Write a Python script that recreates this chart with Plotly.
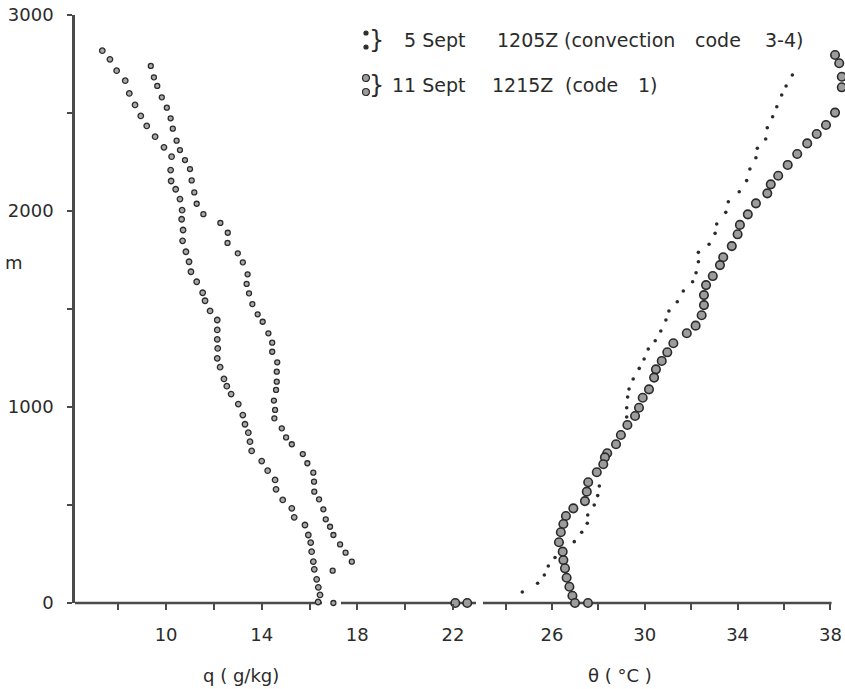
import plotly.graph_objects as go

# ---- specific humidity profiles, q (g/kg) vs height (m) ----
q_sep11 = [7.33, 7.65, 7.93, 8.29, 8.46, 8.70, 8.94, 9.19, 9.54, 9.91, 10.23, 10.19,
           10.21, 10.40, 10.58, 10.67, 10.65, 10.71, 10.69, 10.83, 10.96, 11.04, 11.28,
           11.53, 11.63, 11.84, 12.14, 12.14, 12.14, 12.16, 12.14, 12.26, 12.42, 12.54,
           12.72, 13.02, 13.21, 13.30, 13.44, 13.51, 13.58, 14.00, 14.25, 14.56, 14.60,
           14.88, 15.26, 15.36, 15.81, 15.95, 16.05, 16.09, 16.16, 16.20, 16.30, 16.37,
           16.44, 16.36]
zq_sep11 = [2818, 2774, 2716, 2665, 2600, 2541, 2485, 2434, 2379, 2325, 2277, 2209,
            2153, 2111, 2061, 2004, 1958, 1903, 1848, 1792, 1741, 1690, 1639, 1583,
            1542, 1490, 1444, 1393, 1345, 1299, 1248, 1203, 1143, 1106, 1066, 1015,
            959, 912, 869, 823, 776, 724, 675, 628, 580, 526, 483, 437, 398, 347, 308,
            262, 211, 172, 121, 80, 41, 5]

q_sep5 = [9.36, 9.49, 9.63, 9.82, 10.03, 10.19, 10.28, 10.44, 10.58, 10.79, 11.00,
          11.07, 11.18, 11.28, 11.56, 12.27, 12.58, 12.57, 13.00, 13.21, 13.41, 13.37,
          13.47, 13.61, 13.83, 14.04, 14.28, 14.44, 14.44, 14.65, 14.63, 14.63, 14.60,
          14.51, 14.56, 14.53, 14.84, 15.02, 15.26, 15.72, 15.91, 16.16, 16.19, 16.20,
          16.40, 16.58, 16.68, 16.86, 17.00, 17.28, 17.51, 17.77, 16.97, 17.00]
zq_sep5 = [2740, 2682, 2638, 2580, 2527, 2473, 2420, 2359, 2311, 2260, 2214, 2156,
           2095, 2037, 1984, 1939, 1889, 1837, 1784, 1738, 1677, 1628, 1580, 1525,
           1473, 1435, 1376, 1328, 1282, 1228, 1180, 1129, 1087, 1033, 985, 942, 891,
           845, 810, 760, 713, 665, 619, 568, 529, 478, 427, 389, 347, 299, 257, 211,
           165, 0]

# surface humidity readings
q_surface = [22.1, 22.6]
zq_surface = [0, 0]

# ---- potential temperature profiles, theta (deg C) vs height (m) ----
th_sep11 = [38.20, 38.38, 38.49, 38.49, 38.56, 38.20, 37.81, 37.41, 37.00, 36.57,
            36.16, 35.75, 35.43, 35.28, 34.79, 34.44, 34.10, 34.00, 33.75, 33.38,
            33.24, 32.93, 32.64, 32.55, 32.55, 32.45, 32.19, 31.81, 31.23, 30.97,
            30.73, 30.48, 30.40, 30.18, 29.91, 29.75, 29.58, 29.25, 28.97, 28.76,
            28.38, 28.28, 28.21, 27.93, 27.56, 27.50, 27.42, 26.92, 26.60, 26.49,
            26.38, 26.30, 26.46, 26.49, 26.56, 26.63, 26.75, 26.88, 26.99, 27.55]
zth_sep11 = [2796, 2754, 2685, 2631, 2570, 2502, 2439, 2393, 2345, 2291, 2235, 2180,
             2136, 2090, 2039, 1983, 1929, 1881, 1821, 1764, 1724, 1668, 1622, 1571,
             1520, 1468, 1415, 1376, 1325, 1279, 1235, 1192, 1150, 1090, 1047, 996,
             954, 908, 857, 810, 764, 743, 708, 667, 616, 568, 520, 483, 444, 403,
             361, 310, 262, 219, 177, 129, 83, 37, 0, 0]

th_sep5 = [36.36, 36.09, 35.90, 35.69, 35.51, 35.28, 35.21, 34.85, 34.79, 34.53,
           34.39, 34.07, 33.60, 33.49, 33.10, 33.03, 32.77, 32.31, 32.31, 32.21,
           32.06, 31.66, 31.40, 31.04, 30.91, 30.69, 30.45, 30.15, 29.97, 29.76,
           29.50, 29.32, 29.26, 29.22, 29.22, 28.04, 27.97, 27.82, 27.54, 27.52,
           27.28, 26.96, 26.13, 25.84, 25.67, 25.38, 24.72]
zth_sep5 = [2694, 2638, 2592, 2532, 2481, 2425, 2367, 2320, 2272, 2214, 2155, 2098,
            2047, 1993, 1934, 1886, 1830, 1789, 1741, 1685, 1639, 1592, 1537, 1490,
            1444, 1388, 1338, 1296, 1245, 1197, 1143, 1092, 1051, 996, 949, 597, 548,
            500, 449, 407, 361, 313, 232, 189, 143, 101, 56]

# ---- axes ticks ----
q_ticks = [8, 10, 12, 14, 16, 18, 20, 22]
q_labels = ["", "10", "", "14", "", "18", "", "22"]
th_ticks = [24, 26, 28, 30, 32, 34, 36, 38]
th_labels = ["", "26", "", "30", "", "34", "", "38"]
z_ticks = [0, 500, 1000, 1500, 2000, 2500, 3000]
z_labels = ["0", "", "1000", "", "2000", "", "3000"]

INK = "#2b2b2b"
AXIS = "#4a4a4a"
FONT = "DejaVu Sans"

# plot-area geometry in pixels
W, H = 845, 689
L, R, T, B = 75, 2, 15, 86
PW, PH = W - L - R, H - T - B


def px(xp):
    return (xp - L) / PW


def py(yp):
    return (H - B - yp) / PH


# pixel -> data conversion used only for axis ranges
def q_at(xp):
    return 8 + (xp - 118.3) / 23.9


def th_at(xp):
    return 26 + (xp - 552) / 23.2


open_mark = dict(symbol="circle", size=5.5, color="#a8a8a8",
                 line=dict(color=INK, width=1.3))
big_mark = dict(symbol="circle", size=8.5, color="#9c9c9c",
                line=dict(color=INK, width=1.6))
dot_mark = dict(symbol="circle", size=3.6, color=INK, line=dict(width=0))

fig = go.Figure()
fig.add_trace(go.Scatter(x=q_sep11, y=zq_sep11, mode="markers", marker=open_mark,
                         xaxis="x", yaxis="y", cliponaxis=False))
fig.add_trace(go.Scatter(x=q_sep5, y=zq_sep5, mode="markers",
                         marker=dict(open_mark, size=5),
                         xaxis="x", yaxis="y", cliponaxis=False))
fig.add_trace(go.Scatter(x=q_surface, y=zq_surface, mode="markers", marker=big_mark,
                         xaxis="x", yaxis="y", cliponaxis=False))
fig.add_trace(go.Scatter(x=th_sep11, y=zth_sep11, mode="markers", marker=big_mark,
                         xaxis="x2", yaxis="y", cliponaxis=False))
fig.add_trace(go.Scatter(x=th_sep5, y=zth_sep5, mode="markers", marker=dot_mark,
                         xaxis="x2", yaxis="y", cliponaxis=False))

q_end_px, th_start_px = 476, 483
common_x = dict(showline=False, ticks="outside",
                ticklen=6, tickwidth=1.5, tickcolor=AXIS, showgrid=False,
                zeroline=False, tickfont=dict(family=FONT, size=18, color=INK),
                ticklabelstandoff=9, anchor="y")

fig.update_layout(
    width=W, height=H,
    margin=dict(l=L, r=R, t=T, b=B),
    paper_bgcolor="white", plot_bgcolor="white",
    showlegend=False,
    xaxis=dict(common_x, domain=[0, px(q_end_px)],
               range=[q_at(L), q_at(q_end_px)],
               tickvals=q_ticks, ticktext=q_labels),
    xaxis2=dict(common_x, domain=[px(th_start_px), 1],
                range=[th_at(th_start_px), th_at(W - R)],
                tickvals=th_ticks, ticktext=th_labels),
    yaxis=dict(range=[0, 3000], showline=True, linecolor=AXIS, linewidth=2.6,
               ticks="outside", ticklen=5, tickwidth=1.5, tickcolor=AXIS,
               showgrid=False, zeroline=False, tickvals=z_ticks, ticktext=z_labels,
               tickfont=dict(family=FONT, size=18, color=INK),
               ticklabelstandoff=10),
)

# baseline segments: the q line is broken around the 17 g/kg surface reading,
# the theta line stops at the last tick
baseline = [
    ("x", q_at(L) - 0.05, q_at(322)),
    ("x", q_at(341), q_at(q_end_px)),
    ("x2", th_at(th_start_px), 38.05),
]
for ref, x0, x1 in baseline:
    fig.add_shape(type="line", xref=ref, yref="paper", x0=x0, x1=x1, y0=0, y1=0,
                  line=dict(color=AXIS, width=2.6), layer="below")

annotations = [
    dict(text="q ( g/kg)", x=px(241), y=py(675)),
    dict(text="\u03b8 ( °C )", x=px(620), y=py(675)),
    dict(text="m", x=px(14), y=py(262)),
]
for a in annotations:
    fig.add_annotation(xref="paper", yref="paper", showarrow=False,
                       xanchor="center", yanchor="middle",
                       font=dict(family=FONT, size=18, color=INK), **a)

# legend entries
LEG1_Y, LEG2_Y = 40, 85
legend_rows = [
    (LEG1_Y, [("5 Sept", 402), ("1205Z", 495), ("(convection", 562), ("code", 693),
              ("3-4)", 763)]),
    (LEG2_Y, [("11 Sept", 390), ("1215Z", 490), ("(code", 563), ("1)", 636)]),
]
for yrow, parts in legend_rows:
    for txt, xl in parts:
        fig.add_annotation(xref="paper", yref="paper", showarrow=False,
                           xanchor="left", yanchor="middle", text=txt,
                           x=px(xl), y=py(yrow),
                           font=dict(family=FONT, size=19, color=INK))
    fig.add_annotation(xref="paper", yref="paper", showarrow=False,
                       xanchor="center", yanchor="middle", text="}",
                       x=px(376), y=py(yrow),
                       font=dict(family=FONT, size=24, color=INK))

# legend symbols: small dots for 5 Sept, grey circles for 11 Sept
for (yrow, r, fill) in [(LEG1_Y, 2, INK), (LEG2_Y, 3.5, "#9c9c9c")]:
    for dy in (-7, 7):
        fig.add_shape(type="circle", xref="paper", yref="paper",
                      xsizemode="pixel", ysizemode="pixel",
                      xanchor=px(366), yanchor=py(yrow + dy),
                      x0=-r, x1=r, y0=-r, y1=r,
                      fillcolor=fill, line=dict(color=INK, width=1.2))

fig.write_html("out.html")
